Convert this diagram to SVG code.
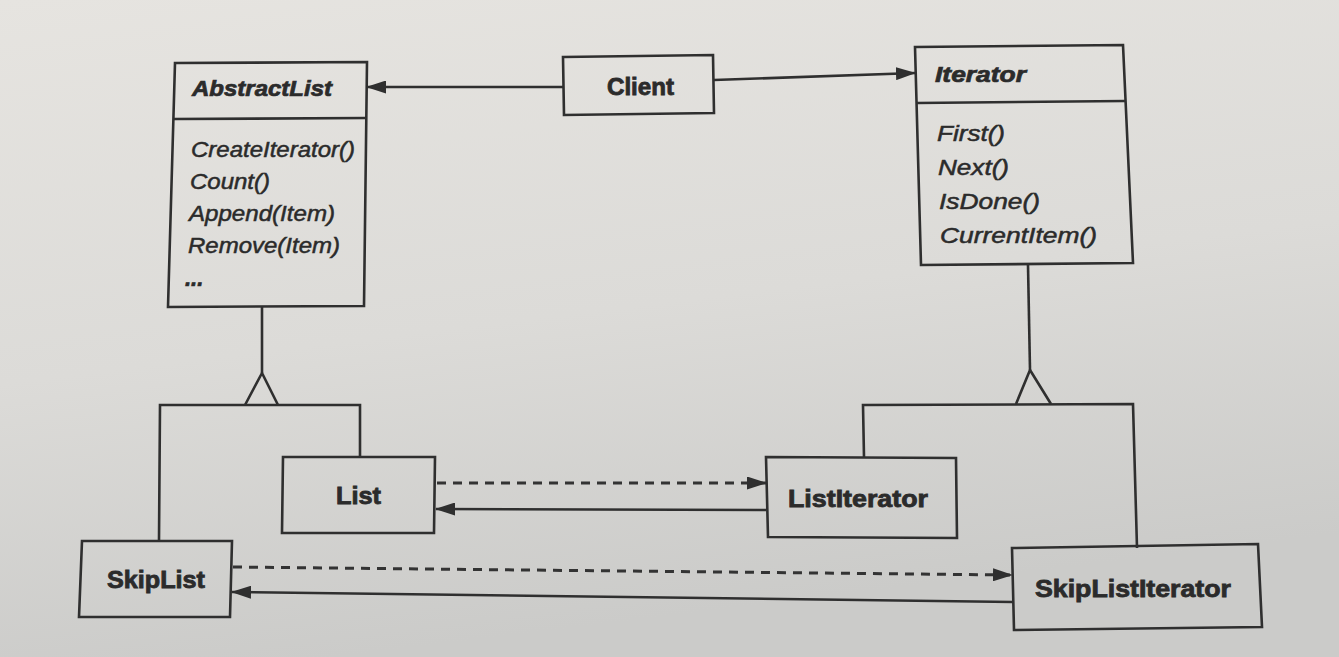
<svg xmlns="http://www.w3.org/2000/svg" width="1339" height="657" viewBox="0 0 1339 657">
  <defs>
    <linearGradient id="paper" x1="0" y1="0" x2="0.25" y2="1">
      <stop offset="0" stop-color="#e6e4e0"/>
      <stop offset="0.55" stop-color="#dcdbd8"/>
      <stop offset="1" stop-color="#cbcbc9"/>
    </linearGradient>
    <marker id="arrow" viewBox="0 0 20 13" refX="19" refY="6.5" markerWidth="20" markerHeight="13" markerUnits="userSpaceOnUse" orient="auto">
      <path d="M0,0 L20,6.5 L0,13 Z" fill="#2f2f2f"/>
    </marker>
    <style>
      .box { fill: none; stroke: #2f2f2f; stroke-width: 2.6; stroke-linejoin: miter; }
      .line { fill: none; stroke: #2f2f2f; stroke-width: 2.6; }
      .dash { fill: none; stroke: #333; stroke-width: 3; stroke-dasharray: 9 7; }
      .name { font-family: "Liberation Sans", Arial, sans-serif; font-weight: bold; font-size: 23px; fill: #2b2b2b; stroke: #2b2b2b; stroke-width: 0.8; }
      .abstract { font-family: "Liberation Sans", Arial, sans-serif; font-weight: bold; font-style: italic; font-size: 22px; fill: #2b2b2b; stroke: #2b2b2b; stroke-width: 0.7; }
      .op { font-family: "Liberation Sans", Arial, sans-serif; font-style: italic; font-size: 22px; fill: #2b2b2b; stroke: #2b2b2b; stroke-width: 0.5; }
    </style>
  </defs>

  <rect x="0" y="0" width="1339" height="657" fill="url(#paper)"/>

  <!-- class nodes -->
  <g id="AbstractList">
    <path class="box" d="M175,63 L367,62 L364,306 L168,307 Z"/>
    <path class="line" d="M174,119 L367,118"/>
    <text class="abstract" x="192" y="96" textLength="140" lengthAdjust="spacingAndGlyphs">AbstractList</text>
    <text class="op" x="191" y="157" textLength="164" lengthAdjust="spacingAndGlyphs">CreateIterator()</text>
    <text class="op" x="190" y="189" textLength="80" lengthAdjust="spacingAndGlyphs">Count()</text>
    <text class="op" x="189" y="221" textLength="146" lengthAdjust="spacingAndGlyphs">Append(Item)</text>
    <text class="op" x="188" y="253" textLength="152" lengthAdjust="spacingAndGlyphs">Remove(Item)</text>
    <text class="abstract" x="185" y="286">...</text>
  </g>

  <g id="Client">
    <path class="box" d="M563,57 L713,55 L714,113 L564,115 Z"/>
    <text class="name" x="607" y="95" textLength="67" lengthAdjust="spacingAndGlyphs">Client</text>
  </g>

  <g id="Iterator">
    <path class="box" d="M915,47 L1123,45 L1133,263 L921,265 Z"/>
    <path class="line" d="M917,103 L1125,101"/>
    <text class="abstract" x="935" y="82" textLength="91" lengthAdjust="spacingAndGlyphs">Iterator</text>
    <text class="op" x="937" y="141" textLength="68" lengthAdjust="spacingAndGlyphs">First()</text>
    <text class="op" x="938" y="175" textLength="71" lengthAdjust="spacingAndGlyphs">Next()</text>
    <text class="op" x="939" y="209" textLength="101" lengthAdjust="spacingAndGlyphs">IsDone()</text>
    <text class="op" x="940" y="243" textLength="157" lengthAdjust="spacingAndGlyphs">CurrentItem()</text>
  </g>

  <g id="List">
    <path class="box" d="M283,457 L435,457 L434,533 L282,533 Z"/>
    <text class="name" x="336" y="504" textLength="45" lengthAdjust="spacingAndGlyphs">List</text>
  </g>

  <g id="ListIterator">
    <path class="box" d="M766,457 L956,458 L957,538 L768,537 Z"/>
    <text class="name" x="788" y="507" textLength="140" lengthAdjust="spacingAndGlyphs">ListIterator</text>
  </g>

  <g id="SkipList">
    <path class="box" d="M82,541 L232,541 L230,617 L79,617 Z"/>
    <text class="name" x="107" y="588" textLength="98" lengthAdjust="spacingAndGlyphs">SkipList</text>
  </g>

  <g id="SkipListIterator">
    <path class="box" d="M1012,548 L1258,544 L1262,627 L1014,630 Z"/>
    <text class="name" x="1035" y="597" textLength="196" lengthAdjust="spacingAndGlyphs">SkipListIterator</text>
  </g>

  <!-- connectors -->
  <g id="connectors">
    <!-- Client references -->
    <path class="line" d="M563,87 L367,87" marker-end="url(#arrow)"/>
    <path class="line" d="M714,80 L915,73" marker-end="url(#arrow)"/>

    <!-- AbstractList inheritance -->
    <path class="line" d="M262,307 L262,373"/>
    <path class="line" d="M262,373 L245,405 M262,373 L278,405"/>
    <path class="line" d="M159,540 L160,405 L360,405 L360,457"/>

    <!-- Iterator inheritance -->
    <path class="line" d="M1028,265 L1030,370"/>
    <path class="line" d="M1030,370 L1016,404 M1030,370 L1051,404"/>
    <path class="line" d="M864,457 L863,405 L1133,404 L1137,548"/>

    <!-- List / ListIterator -->
    <path class="dash" d="M437,483 L766,483" marker-end="url(#arrow)"/>
    <path class="line" d="M766,510 L436,509" marker-end="url(#arrow)"/>

    <!-- SkipList / SkipListIterator -->
    <path class="dash" d="M233,567 L1012,575" marker-end="url(#arrow)"/>
    <path class="line" d="M1013,602 L232,592" marker-end="url(#arrow)"/>
  </g>
</svg>
